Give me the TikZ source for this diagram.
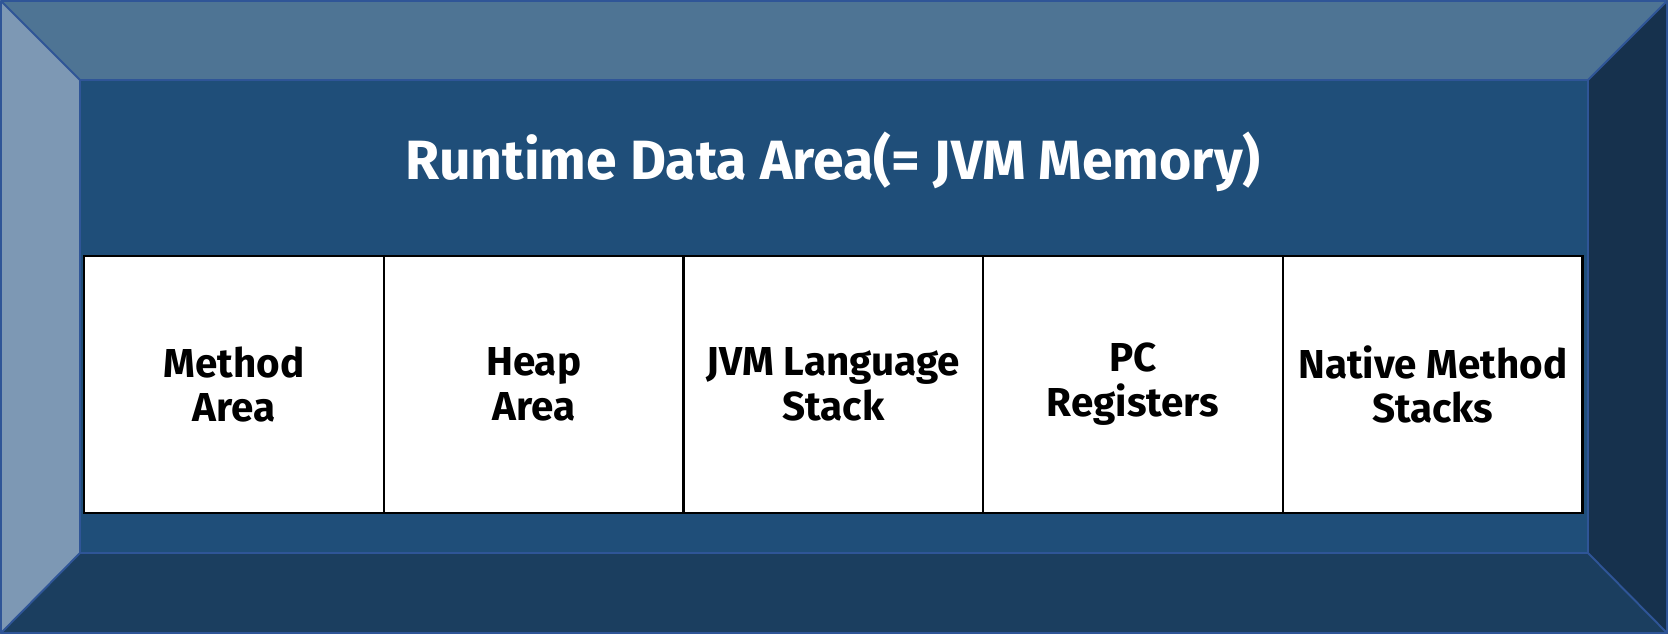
\documentclass[tikz,border=0pt]{standalone}
\usepackage{fontspec}
\setmainfont{Fira Sans}
\usepackage{tikz}
\usetikzlibrary{positioning}
\definecolor{bevelTop}{RGB}{78,116,148}
\definecolor{bevelLeft}{RGB}{125,152,180}
\definecolor{bevelBottom}{RGB}{27,62,95}
\definecolor{bevelRight}{RGB}{22,49,77}
\definecolor{faceBlue}{RGB}{31,78,121}
\definecolor{edgeBlue}{RGB}{47,85,151}

\begin{document}
\begin{tikzpicture}[
    x=0.02cm, y=-0.02cm,
    facet/.style={draw=edgeBlue, line width=1.1pt, line join=round},
    area/.style={draw=black, fill=white, line width=1.3pt, minimum width=5.995cm, minimum height=5.14cm, inner sep=0pt, align=center, font=\fontsize{23}{25.5}\selectfont\bfseries},
    heading/.style={text=white, font=\fontsize{31.5}{34}\selectfont\bfseries}
]
\useasboundingbox (0,0) rectangle (1668,634);
% bevelled frame
\fill[bevelTop] (0,0) -- (1668,0) -- (1588,80) -- (80,80) -- cycle;
\fill[bevelLeft] (0,0) -- (80,80) -- (80,553) -- (0,634) -- cycle;
\fill[bevelBottom] (0,634) -- (80,553) -- (1588,553) -- (1668,634) -- cycle;
\fill[bevelRight] (1668,0) -- (1668,634) -- (1588,553) -- (1588,80) -- cycle;
\fill[faceBlue] (80,80) rectangle (1588,553);
\draw[facet] (1,1) rectangle (1667,633);
\draw[facet] (80,80) rectangle (1588,553);
\draw[facet] (1,1) -- (80,80);
\draw[facet] (1667,1) -- (1588,80);
\draw[facet] (1,633) -- (80,553);
\draw[facet] (1667,633) -- (1588,553);

\node[heading] (title) at (833,162) {Runtime Data Area(= JVM Memory)};

\node[area, anchor=west] (method) at (83,384.5) {Method\\Area};
\node[area, right=-1.3pt of method] (heap) {Heap\\Area};
\node[area, right=-1.3pt of heap] (stack) {JVM Language\\Stack};
\node[area, right=-1.3pt of stack] (pc) {PC\\Registers};
\node[area, right=-1.3pt of pc] (native) {Native Method\\Stacks};
\end{tikzpicture}
\end{document}
